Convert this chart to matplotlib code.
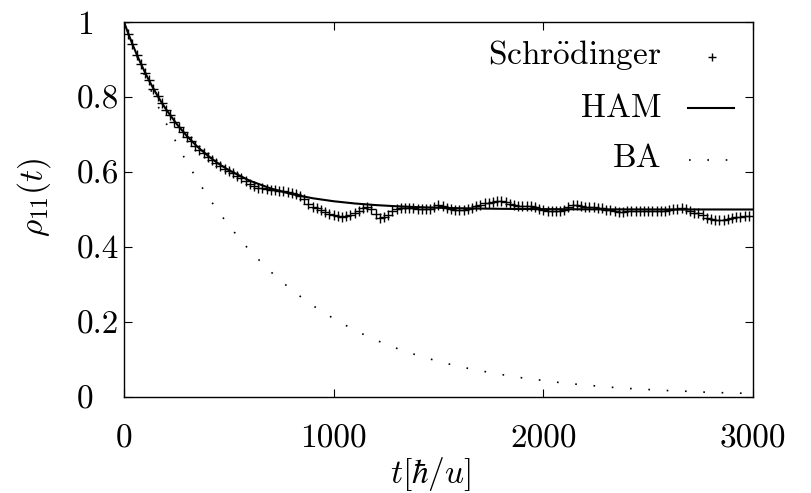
import matplotlib
matplotlib.use('Agg')
import matplotlib.pyplot as plt

plt.rcParams['font.family'] = 'cmr10'
plt.rcParams['mathtext.fontset'] = 'cm'
plt.rcParams['axes.formatter.use_mathtext'] = True
plt.rcParams['font.size'] = 24

# Schroedinger (exact) solution, step 20
t_schr = list(range(0, 3000, 20))
rho_schr = [
    1.000, 0.968, 0.940, 0.913, 0.889, 0.864, 0.844, 0.821, 0.802, 0.783,
    0.766, 0.751, 0.734, 0.720, 0.706, 0.694, 0.683, 0.670, 0.659, 0.650,
    0.640, 0.633, 0.624, 0.616, 0.609, 0.603, 0.596, 0.590, 0.583, 0.576,
    0.568, 0.562, 0.558, 0.556, 0.554, 0.552, 0.551, 0.550, 0.548, 0.546,
    0.543, 0.540, 0.536, 0.528, 0.515, 0.506, 0.504, 0.500, 0.494, 0.489,
    0.485, 0.482, 0.481, 0.482, 0.486, 0.491, 0.497, 0.503, 0.506, 0.502,
    0.488, 0.478, 0.480, 0.486, 0.495, 0.501, 0.503, 0.504, 0.504, 0.503,
    0.502, 0.502, 0.501, 0.502, 0.508, 0.511, 0.510, 0.505, 0.501, 0.499,
    0.499, 0.500, 0.502, 0.505, 0.509, 0.513, 0.516, 0.518, 0.520, 0.522,
    0.522, 0.519, 0.514, 0.511, 0.510, 0.510, 0.510, 0.509, 0.507, 0.502,
    0.498, 0.496, 0.495, 0.495, 0.496, 0.500, 0.507, 0.512, 0.511, 0.509,
    0.508, 0.507, 0.507, 0.505, 0.503, 0.500, 0.498, 0.495, 0.494, 0.494,
    0.495, 0.495, 0.496, 0.497, 0.497, 0.496, 0.497, 0.497, 0.496, 0.497,
    0.499, 0.501, 0.502, 0.503, 0.502, 0.496, 0.492, 0.490, 0.485, 0.478,
    0.474, 0.472, 0.471, 0.471, 0.474, 0.478, 0.480, 0.481, 0.482, 0.483,
]

# HAM curve
t_ham = [0, 20, 40, 60, 80, 100, 120, 140, 160, 180, 200, 250, 300, 350, 400,
         450, 500, 600, 700, 800, 900, 1000, 1100, 1200, 1300, 1400, 1500,
         1600, 1700, 1800, 1900, 2000, 2200, 2400, 2600, 2800, 3000]
rho_ham = [1.000, 0.9697, 0.9412, 0.9145, 0.8894, 0.8658, 0.8436, 0.8228,
           0.8033, 0.7849, 0.7676, 0.7289, 0.6958, 0.6675, 0.6433, 0.6225,
           0.6048, 0.5767, 0.5561, 0.5410, 0.5300, 0.5220, 0.5161, 0.5118,
           0.5086, 0.5063, 0.5046, 0.5034, 0.5025, 0.5018, 0.5013, 0.5010,
           0.5005, 0.5003, 0.5001, 0.5001, 0.5000]

# BA curve
t_ba = [0, 50, 100, 150, 200, 300, 400, 500, 600, 700, 800, 900, 1000, 1100,
        1200, 1300, 1400, 1500, 1600, 1700, 1800, 1900, 2000, 2100, 2200,
        2300, 2400, 2500, 2600, 2700, 2800, 2900, 3000]
rho_ba = [1.000, 0.925, 0.855, 0.790, 0.731, 0.625, 0.534, 0.457, 0.390,
          0.334, 0.285, 0.244, 0.209, 0.178, 0.152, 0.130, 0.111, 0.095,
          0.081, 0.070, 0.060, 0.051, 0.044, 0.037, 0.032, 0.027, 0.023,
          0.020, 0.017, 0.015, 0.012, 0.011, 0.009]

xticks = [0, 1000, 2000, 3000]
xtick_labels = ['0', '1000', '2000', '3000']
yticks = [0, 0.2, 0.4, 0.6, 0.8, 1]
ytick_labels = ['0', '0.2', '0.4', '0.6', '0.8', '1']

labels = [r'$\mathrm{Schr\ddot{o}dinger}$', 'HAM', 'BA']

fig = plt.figure(figsize=(8.12, 4.93), dpi=100)
ax = fig.add_axes([0.1527, 0.1947, 0.7746, 0.7607])

ba_style = dict(color='black', lw=1.2, linestyle=(0, (1, 10)))

ax.plot(t_schr, rho_schr, ls='none', marker='+', ms=7.5, mew=1.0, color='black')
ax.plot(t_ham, rho_ham, color='black', lw=1.5)
ax.plot(t_ba, rho_ba, **ba_style)

ax.set_xlim(0, 3000)
ax.set_ylim(0, 1)
ax.set_xticks(xticks, xtick_labels)
ax.set_yticks(yticks, ytick_labels)
ax.tick_params(direction='in', length=6, width=0.8, top=True, right=True)
ax.tick_params(axis='x', pad=20)
ax.tick_params(axis='y', pad=34)
for lab in ax.get_yticklabels():
    lab.set_horizontalalignment('left')
for sp in ax.spines.values():
    sp.set_linewidth(1.0)

ax.set_xlabel(r'$t[\hbar/u]$')
ax.xaxis.set_label_coords(0.488, -0.155)
ax.set_ylabel(r'$\rho_{11}(t)$')
ax.yaxis.set_label_coords(-0.113, 0.533)

# gnuplot-like key: right aligned text, sample on the right
tr = ax.transAxes
ax.text(0.855, 0.888, labels[0], ha='right', va='baseline', transform=tr)
ax.plot([0.935], [0.9075], marker='+', ms=6, mew=1.0, color='black', transform=tr)
ax.text(0.855, 0.7467, labels[1], ha='right', va='baseline', transform=tr)
ax.plot([0.897, 0.970], [0.7715, 0.7715], color='black', lw=1.5, transform=tr)
ax.text(0.855, 0.6133, labels[2], ha='right', va='baseline', transform=tr)
ax.plot([0.899, 0.970], [0.632, 0.632], transform=tr, **ba_style)

fig.savefig('out.png', dpi=100)
